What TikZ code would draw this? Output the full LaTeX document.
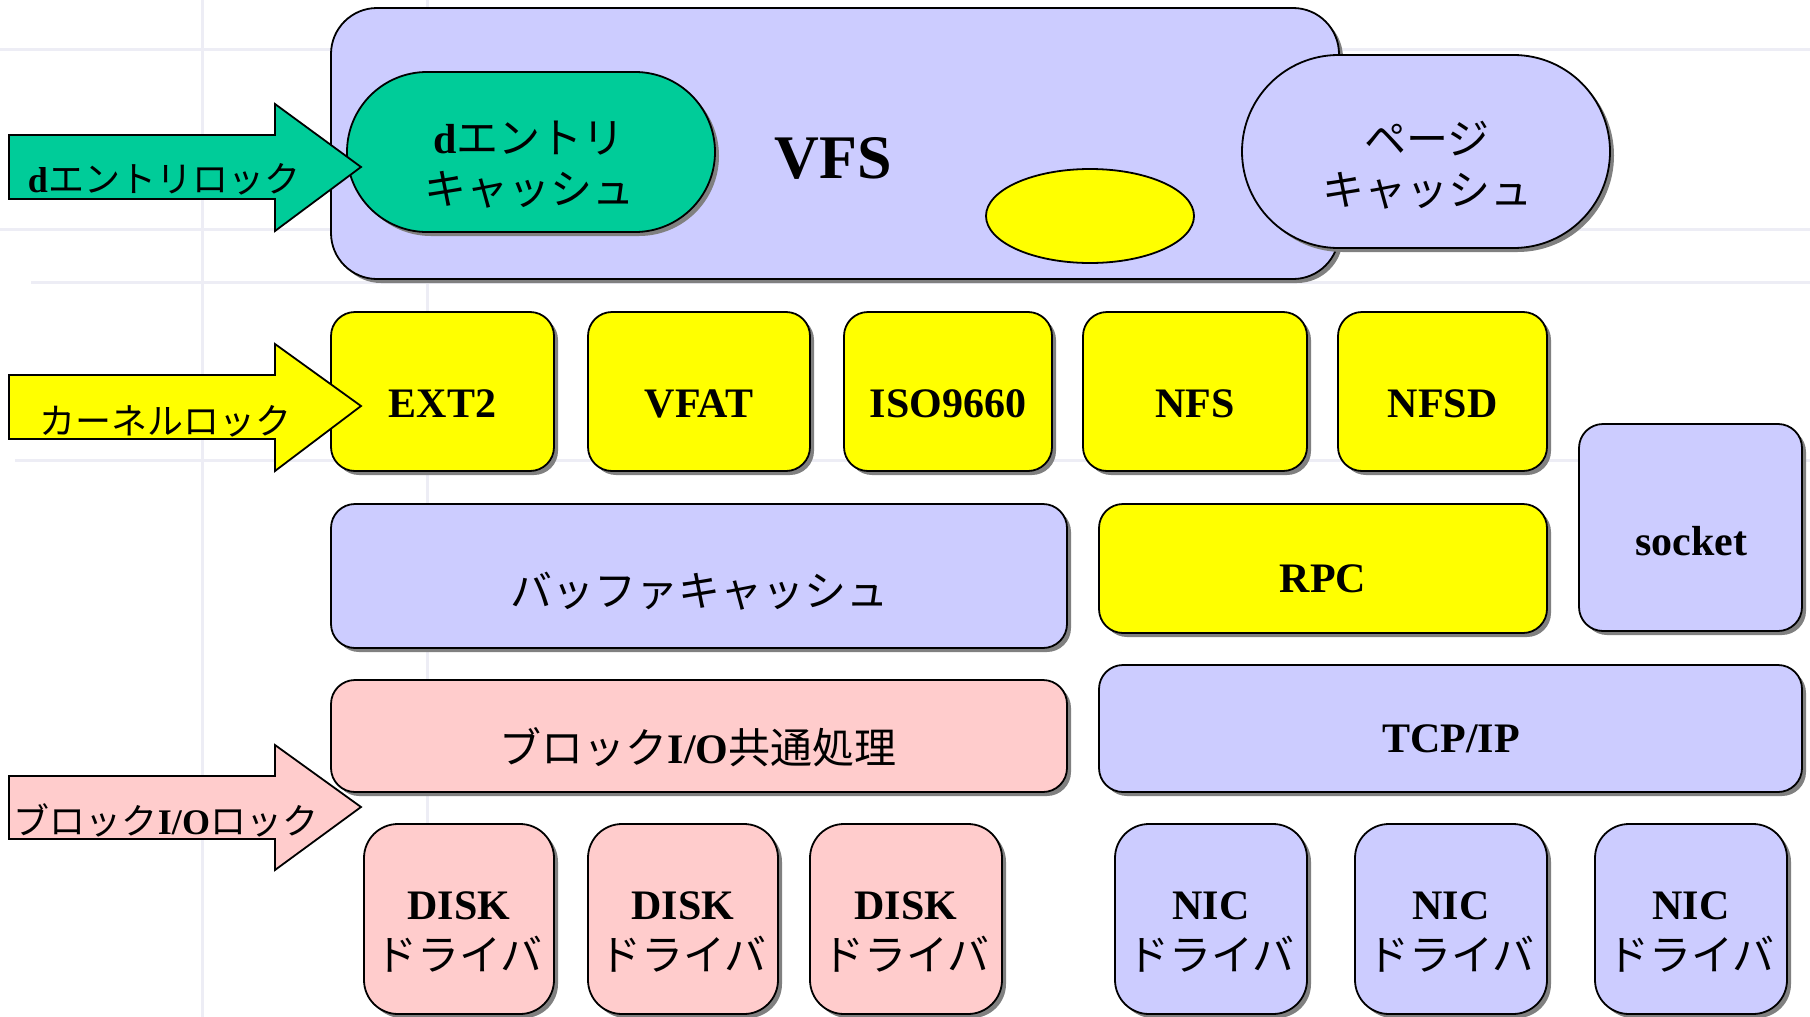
\documentclass[tikz,border=0pt]{standalone}
\usepackage{fontspec}
\setmainfont{Liberation Serif}
\newfontfamily\jp{Noto Sans CJK JP}
\usetikzlibrary{shapes.misc,shapes.geometric,shadows}
\definecolor{lav}{HTML}{CCCCFF}
\definecolor{yel}{HTML}{FFFF00}
\definecolor{pnk}{HTML}{FFCCCC}
\definecolor{grn}{HTML}{00CC99}
\definecolor{gridc}{HTML}{EDEDF5}
\tikzset{
  shad/.style={drop shadow={shadow xshift=4pt,shadow yshift=-4pt,fill=black!50,opacity=1}},
  box/.style={draw,line width=1.8pt,rounded corners=24pt,shad,inner sep=0pt},
  drvbox/.style={box,rounded corners=34pt,minimum width=190pt,minimum height=190pt},
  stad/.style={draw,line width=1.8pt,rounded rectangle,shad,inner sep=0pt},
  bigarrow/.style={draw,line width=1.8pt,miter limit=10},
  lbl/.style={inner sep=0pt,align=center,font=\bfseries\fontsize{42}{51}\selectfont},
  jlbl/.style={inner sep=0pt,align=center,font=\fontsize{42}{51}\selectfont\jp},
  albl/.style={inner sep=0pt,align=center,font=\fontsize{36}{42}\selectfont},
  gridl/.style={draw=gridc,line width=3pt}
}
\begin{document}
\begin{tikzpicture}[x=1pt,y=-1pt]
\useasboundingbox (0,0) rectangle (1810,1017);
\fill[white] (0,0) rectangle (1810,1017);
% faint background grid
\draw[gridl] (202,0) -- (202,1017);
\draw[gridl] (427,0) -- (427,1017);
\draw[gridl] (0,49) -- (1810,49);
\draw[gridl] (0,229) -- (1810,229);
\draw[gridl] (31,282) -- (1810,282);
\draw[gridl] (15,460) -- (1810,460);

% VFS layer
\node[box,rounded corners=46pt,fill=lav,minimum width=1008pt,minimum height=271pt] (vfs) at (835,143.5) {};
\node[stad,fill=grn,minimum width=368pt,minimum height=160pt] (dcache) at (531,152) {};
\node[draw,line width=1.8pt,ellipse,fill=yel,minimum width=208pt,minimum height=94pt,inner sep=0pt] (ell) at (1090,216) {};
\node[stad,fill=lav,minimum width=368pt,minimum height=193pt] (pcache) at (1426,151.5) {};

% file systems
\node[box,fill=yel,minimum width=223pt,minimum height=159pt] (ext2) at (442.5,391.5) {};
\node[box,fill=yel,minimum width=222pt,minimum height=159pt] (vfat) at (699,391.5) {};
\node[box,fill=yel,minimum width=208pt,minimum height=159pt] (iso) at (948,391.5) {};
\node[box,fill=yel,minimum width=224pt,minimum height=159pt] (nfs) at (1195,391.5) {};
\node[box,fill=yel,minimum width=209pt,minimum height=159pt] (nfsd) at (1442.5,391.5) {};
\node[box,fill=lav,minimum width=223pt,minimum height=207pt] (socket) at (1690.5,527.5) {};

\node[box,fill=lav,minimum width=736pt,minimum height=144pt] (buf) at (699,576) {};
\node[box,fill=yel,minimum width=448pt,minimum height=129pt] (rpc) at (1323,568.5) {};
\node[box,fill=pnk,minimum width=736pt,minimum height=112pt] (bio) at (699,736) {};
\node[box,fill=lav,minimum width=703pt,minimum height=127pt] (tcp) at (1450.5,728.5) {};

% drivers
\node[drvbox,fill=pnk] (d1) at (459,919) {};
\node[drvbox,fill=pnk] (d2) at (683,919) {};
\node[drvbox,fill=pnk,minimum width=192pt] (d3) at (906,919) {};
\node[drvbox,fill=lav,minimum width=192pt] (n1) at (1211,919) {};
\node[drvbox,fill=lav,minimum width=192pt] (n2) at (1451,919) {};
\node[drvbox,fill=lav,minimum width=192pt] (n3) at (1691,919) {};

% lock arrows
\draw[bigarrow,fill=grn] (9,135) -- (275,135) -- (275,104) -- (361,167) -- (275,231) -- (275,199) -- (9,199) -- cycle;
\draw[bigarrow,fill=yel] (9,375) -- (275,375) -- (275,344) -- (361,406) -- (275,471) -- (275,439) -- (9,439) -- cycle;
\draw[bigarrow,fill=pnk] (9,776) -- (275,776) -- (275,745) -- (361,807) -- (275,870) -- (275,839) -- (9,839) -- cycle;

% texts
\node[lbl,font=\bfseries\fontsize{62}{70}\selectfont] (tvfs) at (833,158) {VFS};
\node[jlbl] (tdc) at (529,165) {{\rmfamily\bfseries d}エントリ\\キャッシュ};
\node[jlbl] (tpc) at (1427,165) {ページ\\キャッシュ};
\node[lbl] (text2) at (442.5,404) {EXT2};
\node[lbl] (tvfat) at (699,404) {VFAT};
\node[lbl] (tiso) at (948,404) {ISO9660};
\node[lbl] (tnfs) at (1195,404) {NFS};
\node[lbl] (tnfsd) at (1442.5,404) {NFSD};
\node[lbl] (tsock) at (1691,541) {socket};
\node[jlbl] (tbuf) at (699,591) {バッファキャッシュ};
\node[lbl] (trpc) at (1323,579) {RPC};
\node[jlbl] (tbio) at (698,747) {ブロック{\rmfamily\bfseries I/O}共通処理};
\node[lbl] (ttcp) at (1451,739) {TCP/IP};
\foreach \n/\x in {td1/459,td2/683,td3/906}{
  \node[lbl] (\n) at (\x,932) {DISK\\{\mdseries\jp ドライバ}};
}
\foreach \n/\x in {tn1/1211,tn2/1451,tn3/1691}{
  \node[lbl] (\n) at (\x,932) {NIC\\{\mdseries\jp ドライバ}};
}
\node[albl] (tal1) at (164,179) {{\bfseries d}{\jp エントリロック}};
\node[albl] (tal2) at (165,421) {{\jp カーネルロック}};
\node[albl] (tal3) at (166,820) {{\jp ブロック}{\bfseries I/O}{\jp ロック}};
\end{tikzpicture}
\end{document}
